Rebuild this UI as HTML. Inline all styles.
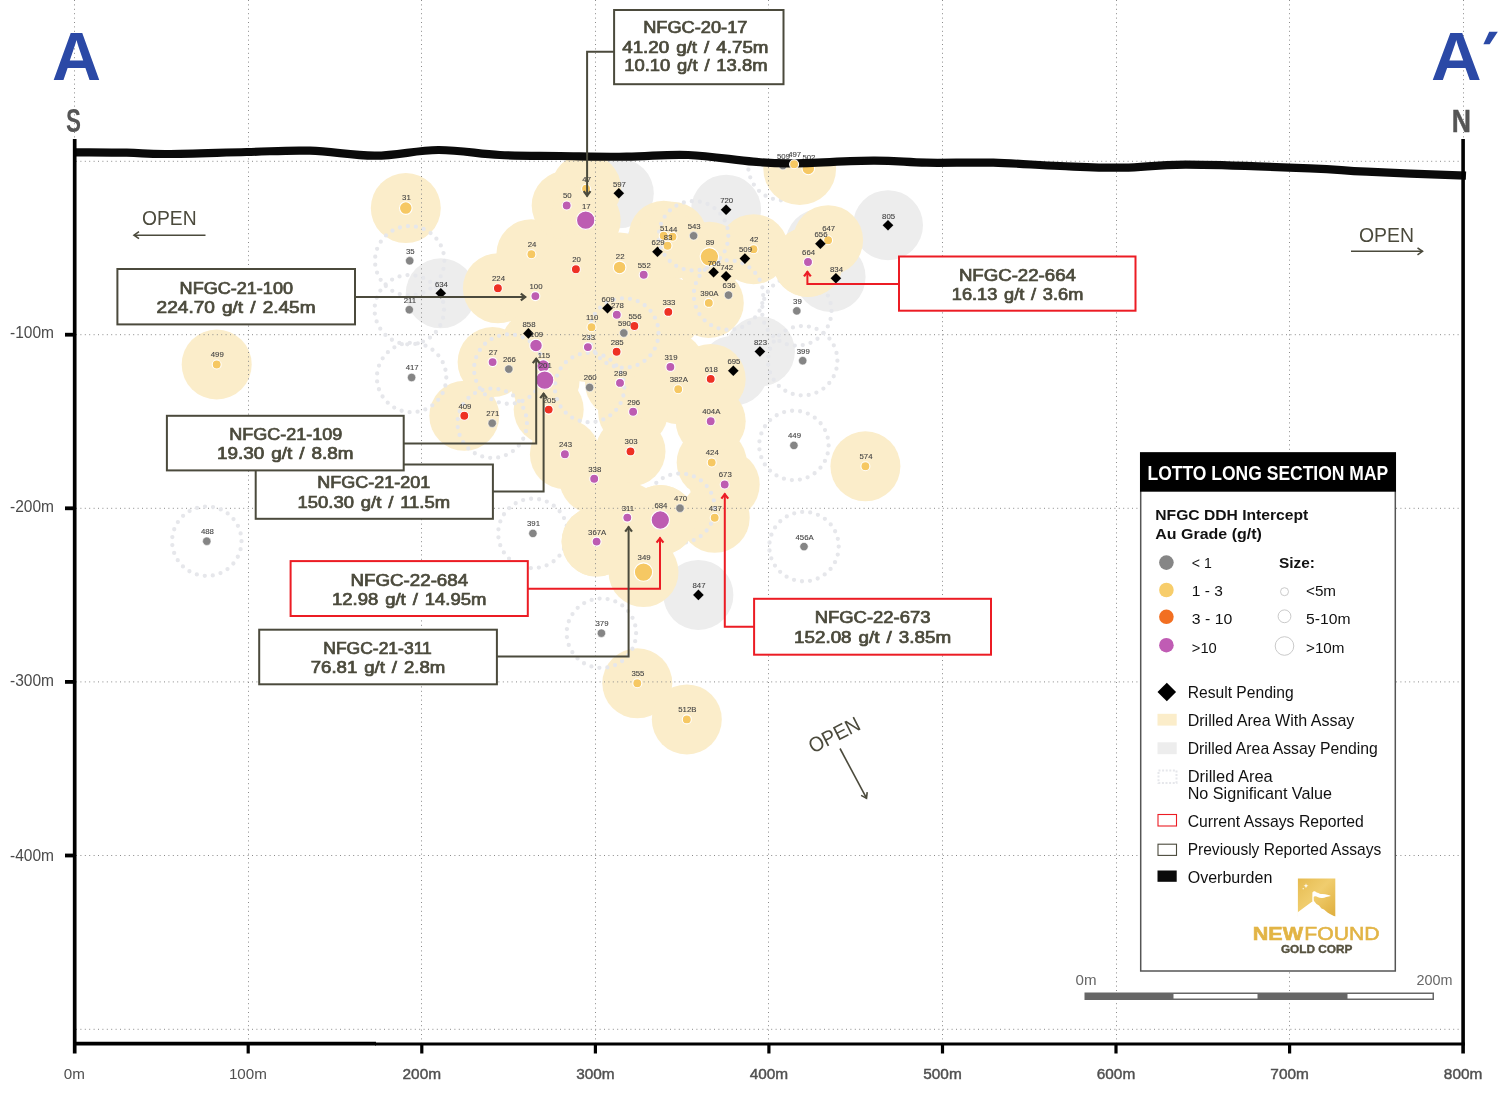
<!DOCTYPE html>
<html lang="en"><head><meta charset="utf-8"><title>Lotto Long Section Map</title>
<style>html,body{margin:0;padding:0;background:#fff}body{width:1500px;height:1098px;overflow:hidden}svg{display:block;will-change:transform}text{font-family:"Liberation Sans",sans-serif}</style></head><body>
<svg width="1500" height="1098" viewBox="0 0 1500 1098">
<rect width="1500" height="1098" fill="#fff"/>
<defs><clipPath id="below"><path d="M75.0 152.3C84.3 152.4 110.2 152.4 126.7 152.7C143.2 153.0 145.1 154.1 166.7 154.0C188.3 153.9 220.9 152.6 246.7 152.0C272.5 151.4 286.9 150.0 310.0 150.7C333.1 151.4 351.9 155.8 375.0 155.7C398.1 155.6 415.8 150.1 438.3 150.0C460.8 149.9 478.1 153.9 500.0 155.0C521.9 156.1 537.2 155.7 560.0 156.0C582.8 156.3 603.6 156.9 626.7 156.7C649.8 156.5 665.5 154.1 688.3 155.0C711.1 155.9 734.4 160.2 753.3 161.7C772.2 163.2 771.7 163.5 793.3 163.3C814.9 163.1 849.3 160.8 873.3 160.7C897.3 160.6 905.1 162.3 926.7 162.7C948.3 163.1 969.3 162.1 993.3 162.7C1017.3 163.3 1036.6 165.1 1060.0 166.0C1083.4 166.9 1100.5 167.9 1123.3 167.7C1146.1 167.5 1153.1 164.6 1186.7 164.7C1220.3 164.8 1277.6 167.0 1310.0 168.3C1342.4 169.6 1338.6 170.4 1366.7 171.7C1394.8 173.0 1448.1 175.0 1466.0 175.7L1466 1098L75 1098Z"/></clipPath></defs>
<g clip-path="url(#below)">
<g fill="#ededed">
<circle cx="440.8" cy="293.3" r="35.0"/>
<circle cx="618.8" cy="193.3" r="35.0"/>
<circle cx="607.5" cy="308.3" r="35.0"/>
<circle cx="726.1" cy="209.7" r="35.0"/>
<circle cx="888.0" cy="225.2" r="35.0"/>
<circle cx="820.4" cy="243.8" r="35.0"/>
<circle cx="830.6" cy="277.0" r="35.0"/>
<circle cx="657.5" cy="251.8" r="35.0"/>
<circle cx="759.9" cy="351.5" r="35.0"/>
<circle cx="733.3" cy="370.7" r="35.0"/>
<circle cx="698.4" cy="594.9" r="35.0"/>
</g>
<circle cx="782.9" cy="165.6" r="34.7" fill="none" stroke="#e6e7eb" stroke-width="4.3" stroke-linecap="round" stroke-dasharray="0 8.07"/>
<g fill="#fbedca">
<circle cx="405.8" cy="208.1" r="35.0"/>
<circle cx="216.7" cy="364.5" r="35.0"/>
<circle cx="497.9" cy="288.3" r="35.0"/>
<circle cx="535.4" cy="296.1" r="35.0"/>
<circle cx="531.4" cy="254.2" r="35.0"/>
<circle cx="566.7" cy="205.5" r="35.0"/>
<circle cx="586.1" cy="188.7" r="35.0"/>
<circle cx="585.7" cy="220.2" r="35.0"/>
<circle cx="575.9" cy="269.3" r="35.0"/>
<circle cx="619.6" cy="267.4" r="35.0"/>
<circle cx="616.8" cy="314.7" r="35.0"/>
<circle cx="591.5" cy="327.2" r="35.0"/>
<circle cx="634.4" cy="326.0" r="35.0"/>
<circle cx="536.0" cy="345.5" r="35.0"/>
<circle cx="587.9" cy="347.1" r="35.0"/>
<circle cx="616.6" cy="351.7" r="35.0"/>
<circle cx="828.1" cy="240.2" r="35.0"/>
<circle cx="808.0" cy="262.0" r="35.0"/>
<circle cx="753.5" cy="249.2" r="35.0"/>
<circle cx="709.4" cy="256.8" r="35.0"/>
<circle cx="708.8" cy="302.9" r="35.0"/>
<circle cx="663.7" cy="235.8" r="35.0"/>
<circle cx="672.5" cy="236.8" r="35.0"/>
<circle cx="667.5" cy="245.8" r="35.0"/>
<circle cx="643.7" cy="274.7" r="35.0"/>
<circle cx="668.3" cy="311.9" r="35.0"/>
<circle cx="492.6" cy="362.1" r="35.0"/>
<circle cx="543.3" cy="366.1" r="35.0"/>
<circle cx="544.7" cy="380.1" r="35.0"/>
<circle cx="548.7" cy="409.6" r="35.0"/>
<circle cx="670.4" cy="366.9" r="35.0"/>
<circle cx="620.0" cy="382.9" r="35.0"/>
<circle cx="678.2" cy="389.2" r="35.0"/>
<circle cx="633.1" cy="411.8" r="35.0"/>
<circle cx="464.3" cy="415.8" r="35.0"/>
<circle cx="564.9" cy="454.2" r="35.0"/>
<circle cx="630.5" cy="451.4" r="35.0"/>
<circle cx="594.2" cy="478.7" r="35.0"/>
<circle cx="627.3" cy="517.6" r="35.0"/>
<circle cx="660.3" cy="520.0" r="35.0"/>
<circle cx="596.6" cy="541.6" r="35.0"/>
<circle cx="710.7" cy="378.9" r="35.0"/>
<circle cx="710.7" cy="421.2" r="35.0"/>
<circle cx="865.4" cy="466.3" r="35.0"/>
<circle cx="711.7" cy="462.5" r="35.0"/>
<circle cx="724.7" cy="484.5" r="35.0"/>
<circle cx="714.7" cy="517.8" r="35.0"/>
<circle cx="643.5" cy="572.1" r="35.0"/>
<circle cx="637.3" cy="683.3" r="35.0"/>
<circle cx="686.8" cy="719.4" r="35.0"/>
<circle cx="799.7" cy="168.7" r="36.4"/>
</g>
</g>
<g stroke="#8a8a8a" stroke-width="1" stroke-dasharray="1 3.4" fill="none">
<path d="M74.5 0V1043"/>
<path d="M248.5 0V1043"/>
<path d="M421.5 0V1043"/>
<path d="M595.5 0V1043"/>
<path d="M768.5 0V1043"/>
<path d="M942.5 0V1043"/>
<path d="M1116.5 0V1043"/>
<path d="M1289.5 0V1043"/>
<path d="M1463.5 0V1043"/>
<path d="M76 161.3H1462"/>
<path d="M76 334.7H1462"/>
<path d="M76 508.3H1462"/>
<path d="M76 681.9H1462"/>
<path d="M76 855.5H1462"/>
<path d="M76 1029.3H1462"/>
</g>
<g font-size="7.8" fill="#444" stroke="#444" stroke-width="0.1" text-anchor="middle">
<circle cx="782.9" cy="165.6" r="4.2" fill="#858585" stroke="#fff" stroke-width="0.6"/>
<text x="783.5" y="158.5">509</text>
<circle cx="808.3" cy="168.5" r="6.3" fill="#f6c863" stroke="#fff" stroke-width="1.1"/>
<text x="808.9" y="159.9">502</text>
</g>
<path d="M75.0 152.3C84.3 152.4 110.2 152.4 126.7 152.7C143.2 153.0 145.1 154.1 166.7 154.0C188.3 153.9 220.9 152.6 246.7 152.0C272.5 151.4 286.9 150.0 310.0 150.7C333.1 151.4 351.9 155.8 375.0 155.7C398.1 155.6 415.8 150.1 438.3 150.0C460.8 149.9 478.1 153.9 500.0 155.0C521.9 156.1 537.2 155.7 560.0 156.0C582.8 156.3 603.6 156.9 626.7 156.7C649.8 156.5 665.5 154.1 688.3 155.0C711.1 155.9 734.4 160.2 753.3 161.7C772.2 163.2 771.7 163.5 793.3 163.3C814.9 163.1 849.3 160.8 873.3 160.7C897.3 160.6 905.1 162.3 926.7 162.7C948.3 163.1 969.3 162.1 993.3 162.7C1017.3 163.3 1036.6 165.1 1060.0 166.0C1083.4 166.9 1100.5 167.9 1123.3 167.7C1146.1 167.5 1153.1 164.6 1186.7 164.7C1220.3 164.8 1277.6 167.0 1310.0 168.3C1342.4 169.6 1338.6 170.4 1366.7 171.7C1394.8 173.0 1448.1 175.0 1466.0 175.7" fill="none" stroke="#0a0a0a" stroke-width="8.2" stroke-linejoin="round"/>
<g font-size="7.8" fill="#444" stroke="#444" stroke-width="0.1" text-anchor="middle">
<circle cx="794.1" cy="164.3" r="4.5" fill="#f6c863" stroke="#fff" stroke-width="1.1"/>
<text x="794.7" y="157.2">497</text>
<path d="M528.4 328.1l5.3 5.3l-5.3 5.3l-5.3 -5.3z" fill="#000"/>
<path d="M713.6 267.0l5.3 5.3l-5.3 5.3l-5.3 -5.3z" fill="#000"/>
<path d="M657.5 246.5l5.3 5.3l-5.3 5.3l-5.3 -5.3z" fill="#000"/>
</g>
<g clip-path="url(#below)">
<g fill="none" stroke="#e6e7eb" stroke-width="4.3" stroke-linecap="round" stroke-dasharray="0 8.07">
<circle cx="409.7" cy="260.8" r="34.7"/>
<circle cx="409.3" cy="309.7" r="34.7"/>
<circle cx="411.6" cy="377.5" r="34.7"/>
<circle cx="206.8" cy="541.2" r="34.7"/>
<circle cx="623.8" cy="333.0" r="34.7"/>
<circle cx="796.8" cy="310.9" r="34.7"/>
<circle cx="728.5" cy="295.1" r="34.7"/>
<circle cx="693.6" cy="235.8" r="34.7"/>
<circle cx="802.7" cy="360.7" r="34.7"/>
<circle cx="508.8" cy="369.1" r="34.7"/>
<circle cx="589.6" cy="387.5" r="34.7"/>
<circle cx="492.2" cy="423.2" r="34.7"/>
<circle cx="680.0" cy="508.2" r="34.7"/>
<circle cx="532.9" cy="533.4" r="34.7"/>
<circle cx="793.9" cy="445.4" r="34.7"/>
<circle cx="804.0" cy="546.6" r="34.7"/>
<circle cx="601.4" cy="633.2" r="34.7"/>
</g>
<g fill="#fbedca">
<circle cx="808.0" cy="262.0" r="35.0"/>
<circle cx="660.3" cy="520.0" r="35.0"/>
<circle cx="596.6" cy="541.6" r="35.0"/>
</g>
</g>
<defs><clipPath id="late">
<circle cx="808.0" cy="262.0" r="35.0"/>
<circle cx="660.3" cy="520.0" r="35.0"/>
<circle cx="596.6" cy="541.6" r="35.0"/>
</clipPath></defs>
<g clip-path="url(#late)" stroke="#8a8a8a" stroke-width="1" stroke-dasharray="1 3.4" fill="none">
<path d="M595.5 0V1043"/>
<path d="M768.5 0V1043"/>
<path d="M76 334.7H1462"/>
<path d="M76 508.3H1462"/>
</g>
<g font-size="7.8" fill="#444" stroke="#444" stroke-width="0.1" text-anchor="middle">
<circle cx="405.8" cy="208.1" r="6.3" fill="#f6c863" stroke="#fff" stroke-width="1.1"/>
<text x="406.4" y="199.5">31</text>
<path d="M440.8 288.0l5.3 5.3l-5.3 5.3l-5.3 -5.3z" fill="#000"/>
<text x="441.4" y="286.7">634</text>
<circle cx="216.7" cy="364.5" r="4.5" fill="#f6c863" stroke="#fff" stroke-width="1.1"/>
<text x="217.3" y="357.4">499</text>
<circle cx="497.9" cy="288.3" r="4.5" fill="#ee3124" stroke="#fff" stroke-width="1.1"/>
<text x="498.5" y="281.2">224</text>
<circle cx="535.4" cy="296.1" r="4.5" fill="#bd5cb2" stroke="#fff" stroke-width="1.1"/>
<text x="536.0" y="289.0">100</text>
<circle cx="531.4" cy="254.2" r="4.5" fill="#f6c863" stroke="#fff" stroke-width="1.1"/>
<text x="532.0" y="247.1">24</text>
<circle cx="566.7" cy="205.5" r="4.5" fill="#bd5cb2" stroke="#fff" stroke-width="1.1"/>
<text x="567.3" y="198.4">50</text>
<circle cx="586.1" cy="188.7" r="4.5" fill="#f6c863" stroke="#fff" stroke-width="1.1"/>
<text x="586.7" y="181.6">47</text>
<circle cx="585.7" cy="220.2" r="9.2" fill="#bd5cb2" stroke="#fff" stroke-width="1.1"/>
<text x="586.3" y="208.5">17</text>
<path d="M618.8 188.0l5.3 5.3l-5.3 5.3l-5.3 -5.3z" fill="#000"/>
<text x="619.4" y="186.7">597</text>
<circle cx="575.9" cy="269.3" r="4.5" fill="#ee3124" stroke="#fff" stroke-width="1.1"/>
<text x="576.5" y="262.2">20</text>
<circle cx="619.6" cy="267.4" r="6.3" fill="#f6c863" stroke="#fff" stroke-width="1.1"/>
<text x="620.2" y="258.8">22</text>
<path d="M607.5 303.0l5.3 5.3l-5.3 5.3l-5.3 -5.3z" fill="#000"/>
<text x="608.1" y="301.7">609</text>
<circle cx="616.8" cy="314.7" r="4.5" fill="#bd5cb2" stroke="#fff" stroke-width="1.1"/>
<text x="617.4" y="307.6">278</text>
<circle cx="591.5" cy="327.2" r="4.5" fill="#f6c863" stroke="#fff" stroke-width="1.1"/>
<text x="592.1" y="320.1">110</text>
<circle cx="634.4" cy="326.0" r="4.5" fill="#ee3124" stroke="#fff" stroke-width="1.1"/>
<text x="635.0" y="318.9">556</text>
<text x="529.0" y="326.8">858</text>
<circle cx="536.0" cy="345.5" r="6.3" fill="#bd5cb2" stroke="#fff" stroke-width="1.1"/>
<text x="536.6" y="336.9">109</text>
<circle cx="587.9" cy="347.1" r="4.5" fill="#bd5cb2" stroke="#fff" stroke-width="1.1"/>
<text x="588.5" y="340.0">233</text>
<circle cx="616.6" cy="351.7" r="4.5" fill="#ee3124" stroke="#fff" stroke-width="1.1"/>
<text x="617.2" y="344.6">285</text>
<path d="M726.1 204.4l5.3 5.3l-5.3 5.3l-5.3 -5.3z" fill="#000"/>
<text x="726.7" y="203.1">720</text>
<path d="M888.0 219.9l5.3 5.3l-5.3 5.3l-5.3 -5.3z" fill="#000"/>
<text x="888.6" y="218.6">805</text>
<circle cx="828.1" cy="240.2" r="4.5" fill="#f6c863" stroke="#fff" stroke-width="1.1"/>
<text x="828.7" y="231.0">647</text>
<path d="M820.4 238.5l5.3 5.3l-5.3 5.3l-5.3 -5.3z" fill="#000"/>
<text x="821.0" y="237.2">656</text>
<circle cx="808.0" cy="262.0" r="4.5" fill="#bd5cb2" stroke="#fff" stroke-width="1.1"/>
<text x="808.6" y="254.9">664</text>
<path d="M835.9 273.0l5.3 5.3l-5.3 5.3l-5.3 -5.3z" fill="#000"/>
<text x="836.5" y="271.7">834</text>
<circle cx="753.5" cy="249.2" r="4.5" fill="#f6c863" stroke="#fff" stroke-width="1.1"/>
<text x="754.1" y="242.1">42</text>
<path d="M744.9 253.3l5.3 5.3l-5.3 5.3l-5.3 -5.3z" fill="#000"/>
<text x="745.5" y="252.0">509</text>
<circle cx="709.4" cy="256.8" r="9.2" fill="#f6c863" stroke="#fff" stroke-width="1.1"/>
<text x="710.0" y="245.1">89</text>
<text x="714.2" y="265.7">706</text>
<path d="M726.1 271.0l5.3 5.3l-5.3 5.3l-5.3 -5.3z" fill="#000"/>
<text x="726.7" y="269.7">742</text>
<circle cx="708.8" cy="302.9" r="4.5" fill="#f6c863" stroke="#fff" stroke-width="1.1"/>
<text x="709.4" y="295.8">390A</text>
<circle cx="663.7" cy="235.8" r="4.5" fill="#f6c863" stroke="#fff" stroke-width="1.1"/>
<text x="664.3" y="230.8">51</text>
<circle cx="672.5" cy="236.8" r="4.5" fill="#f6c863" stroke="#fff" stroke-width="1.1"/>
<text x="673.1" y="231.8">44</text>
<circle cx="667.5" cy="245.8" r="4.5" fill="#f6c863" stroke="#fff" stroke-width="1.1"/>
<text x="668.1" y="240.0">83</text>
<text x="658.1" y="245.2">629</text>
<circle cx="643.7" cy="274.7" r="4.5" fill="#bd5cb2" stroke="#fff" stroke-width="1.1"/>
<text x="644.3" y="267.6">552</text>
<circle cx="668.3" cy="311.9" r="4.5" fill="#ee3124" stroke="#fff" stroke-width="1.1"/>
<text x="668.9" y="304.8">333</text>
<path d="M759.9 346.2l5.3 5.3l-5.3 5.3l-5.3 -5.3z" fill="#000"/>
<text x="760.5" y="344.9">823</text>
<circle cx="492.6" cy="362.1" r="4.5" fill="#bd5cb2" stroke="#fff" stroke-width="1.1"/>
<text x="493.2" y="355.0">27</text>
<circle cx="543.3" cy="366.1" r="6.3" fill="#bd5cb2" stroke="#fff" stroke-width="1.1"/>
<text x="543.9" y="357.5">115</text>
<circle cx="544.7" cy="380.1" r="9.2" fill="#bd5cb2" stroke="#fff" stroke-width="1.1"/>
<text x="545.3" y="368.4">201</text>
<circle cx="548.7" cy="409.6" r="4.5" fill="#ee3124" stroke="#fff" stroke-width="1.1"/>
<text x="549.3" y="402.5">205</text>
<circle cx="670.4" cy="366.9" r="4.5" fill="#bd5cb2" stroke="#fff" stroke-width="1.1"/>
<text x="671.0" y="359.8">319</text>
<circle cx="620.0" cy="382.9" r="4.5" fill="#bd5cb2" stroke="#fff" stroke-width="1.1"/>
<text x="620.6" y="375.8">289</text>
<circle cx="678.2" cy="389.2" r="4.5" fill="#f6c863" stroke="#fff" stroke-width="1.1"/>
<text x="678.8" y="382.1">382A</text>
<circle cx="633.1" cy="411.8" r="4.5" fill="#bd5cb2" stroke="#fff" stroke-width="1.1"/>
<text x="633.7" y="404.7">296</text>
<circle cx="464.3" cy="415.8" r="4.5" fill="#ee3124" stroke="#fff" stroke-width="1.1"/>
<text x="464.9" y="408.7">409</text>
<circle cx="564.9" cy="454.2" r="4.5" fill="#bd5cb2" stroke="#fff" stroke-width="1.1"/>
<text x="565.5" y="447.1">243</text>
<circle cx="630.5" cy="451.4" r="4.5" fill="#ee3124" stroke="#fff" stroke-width="1.1"/>
<text x="631.1" y="444.3">303</text>
<circle cx="594.2" cy="478.7" r="4.5" fill="#bd5cb2" stroke="#fff" stroke-width="1.1"/>
<text x="594.8" y="471.6">338</text>
<circle cx="627.3" cy="517.6" r="4.5" fill="#bd5cb2" stroke="#fff" stroke-width="1.1"/>
<text x="627.9" y="510.5">311</text>
<circle cx="660.3" cy="520.0" r="9.2" fill="#bd5cb2" stroke="#fff" stroke-width="1.1"/>
<text x="660.9" y="508.3">684</text>
<circle cx="596.6" cy="541.6" r="4.5" fill="#bd5cb2" stroke="#fff" stroke-width="1.1"/>
<text x="597.2" y="534.5">367A</text>
<path d="M733.3 365.4l5.3 5.3l-5.3 5.3l-5.3 -5.3z" fill="#000"/>
<text x="733.9" y="364.1">695</text>
<circle cx="710.7" cy="378.9" r="4.5" fill="#ee3124" stroke="#fff" stroke-width="1.1"/>
<text x="711.3" y="371.8">618</text>
<circle cx="710.7" cy="421.2" r="4.5" fill="#bd5cb2" stroke="#fff" stroke-width="1.1"/>
<text x="711.3" y="414.1">404A</text>
<circle cx="865.4" cy="466.3" r="4.5" fill="#f6c863" stroke="#fff" stroke-width="1.1"/>
<text x="866.0" y="459.2">574</text>
<circle cx="711.7" cy="462.5" r="4.5" fill="#f6c863" stroke="#fff" stroke-width="1.1"/>
<text x="712.3" y="455.4">424</text>
<circle cx="724.7" cy="484.5" r="4.5" fill="#bd5cb2" stroke="#fff" stroke-width="1.1"/>
<text x="725.3" y="477.4">673</text>
<circle cx="714.7" cy="517.8" r="4.5" fill="#f6c863" stroke="#fff" stroke-width="1.1"/>
<text x="715.3" y="510.7">437</text>
<circle cx="643.5" cy="572.1" r="9.2" fill="#f6c863" stroke="#fff" stroke-width="1.1"/>
<text x="644.1" y="560.4">349</text>
<path d="M698.4 589.6l5.3 5.3l-5.3 5.3l-5.3 -5.3z" fill="#000"/>
<text x="699.0" y="588.3">847</text>
<circle cx="637.3" cy="683.3" r="4.5" fill="#f6c863" stroke="#fff" stroke-width="1.1"/>
<text x="637.9" y="676.2">355</text>
<circle cx="686.8" cy="719.4" r="4.5" fill="#f6c863" stroke="#fff" stroke-width="1.1"/>
<text x="687.4" y="712.3">512B</text>
<circle cx="409.7" cy="260.8" r="4.2" fill="#858585" stroke="#fff" stroke-width="0.6"/>
<text x="410.3" y="253.7">35</text>
<circle cx="409.3" cy="309.7" r="4.2" fill="#858585" stroke="#fff" stroke-width="0.6"/>
<text x="409.9" y="302.6">211</text>
<circle cx="411.6" cy="377.5" r="4.2" fill="#858585" stroke="#fff" stroke-width="0.6"/>
<text x="412.2" y="370.4">417</text>
<circle cx="206.8" cy="541.2" r="4.2" fill="#858585" stroke="#fff" stroke-width="0.6"/>
<text x="207.4" y="534.1">488</text>
<circle cx="623.8" cy="333.0" r="4.2" fill="#858585" stroke="#fff" stroke-width="0.6"/>
<text x="624.4" y="325.9">590</text>
<circle cx="796.8" cy="310.9" r="4.2" fill="#858585" stroke="#fff" stroke-width="0.6"/>
<text x="797.4" y="303.8">39</text>
<circle cx="728.5" cy="295.1" r="4.2" fill="#858585" stroke="#fff" stroke-width="0.6"/>
<text x="729.1" y="288.0">636</text>
<circle cx="693.6" cy="235.8" r="4.2" fill="#858585" stroke="#fff" stroke-width="0.6"/>
<text x="694.2" y="228.7">543</text>
<circle cx="802.7" cy="360.7" r="4.2" fill="#858585" stroke="#fff" stroke-width="0.6"/>
<text x="803.3" y="353.6">399</text>
<circle cx="508.8" cy="369.1" r="4.2" fill="#858585" stroke="#fff" stroke-width="0.6"/>
<text x="509.4" y="362.0">266</text>
<circle cx="589.6" cy="387.5" r="4.2" fill="#858585" stroke="#fff" stroke-width="0.6"/>
<text x="590.2" y="380.4">260</text>
<circle cx="492.2" cy="423.2" r="4.2" fill="#858585" stroke="#fff" stroke-width="0.6"/>
<text x="492.8" y="416.1">271</text>
<circle cx="680.0" cy="508.2" r="4.2" fill="#858585" stroke="#fff" stroke-width="0.6"/>
<text x="680.6" y="501.1">470</text>
<circle cx="532.9" cy="533.4" r="4.2" fill="#858585" stroke="#fff" stroke-width="0.6"/>
<text x="533.5" y="526.3">391</text>
<circle cx="793.9" cy="445.4" r="4.2" fill="#858585" stroke="#fff" stroke-width="0.6"/>
<text x="794.5" y="438.3">449</text>
<circle cx="804.0" cy="546.6" r="4.2" fill="#858585" stroke="#fff" stroke-width="0.6"/>
<text x="804.6" y="539.5">456A</text>
<circle cx="601.4" cy="633.2" r="4.2" fill="#858585" stroke="#fff" stroke-width="0.6"/>
<text x="602.0" y="626.1">379</text>
</g>
<g stroke="#000" stroke-width="3.2" fill="none">
<path d="M74.7 139V1053.5" stroke-width="3.7"/>
<path d="M1463.1 139V1053.5" stroke-width="3.6"/>
<path d="M73 1043.6H376" stroke-width="3.6"/><path d="M375 1044H1464.8" stroke-width="2.9"/>
<path d="M248.2 1043V1053.5"/>
<path d="M421.8 1043V1053.5"/>
<path d="M595.4 1043V1053.5"/>
<path d="M768.9 1043V1053.5"/>
<path d="M942.5 1043V1053.5"/>
<path d="M1116.0 1043V1053.5"/>
<path d="M1289.6 1043V1053.5"/>
<path d="M65 334.7H74" stroke-width="3.8"/>
<path d="M65 508.3H74" stroke-width="3.8"/>
<path d="M65 681.9H74" stroke-width="3.8"/>
<path d="M65 855.5H74" stroke-width="3.8"/>
</g>
<g font-size="15.6" fill="#4a4a4a">
<text x="10" y="338.3" textLength="44" lengthAdjust="spacingAndGlyphs">-100m</text>
<text x="10" y="512.3" textLength="44" lengthAdjust="spacingAndGlyphs">-200m</text>
<text x="10" y="686.4" textLength="44" lengthAdjust="spacingAndGlyphs">-300m</text>
<text x="10" y="860.6" textLength="44" lengthAdjust="spacingAndGlyphs">-400m</text>
</g>
<g font-size="14.4" fill="#505050" text-anchor="middle">
<text x="74.4" y="1079.3" font-size="15.2">0m</text>
<text x="247.9" y="1079.3" font-size="15.2">100m</text>
<text x="421.8" y="1079.4" font-size="15.4" stroke="#505050" stroke-width="0.45">200m</text>
<text x="595.4" y="1079.4" font-size="15.4" stroke="#505050" stroke-width="0.45">300m</text>
<text x="768.9" y="1079.4" font-size="15.4" stroke="#505050" stroke-width="0.45">400m</text>
<text x="942.5" y="1079.4" font-size="15.4" stroke="#505050" stroke-width="0.45">500m</text>
<text x="1116.0" y="1079.4" font-size="15.4" stroke="#505050" stroke-width="0.45">600m</text>
<text x="1289.6" y="1079.4" font-size="15.4" stroke="#505050" stroke-width="0.45">700m</text>
<text x="1463.1" y="1079.4" font-size="15.4" stroke="#505050" stroke-width="0.45">800m</text>
</g>
<text x="52" y="80.2" font-size="68" font-weight="bold" fill="#2b49a6" textLength="49" lengthAdjust="spacingAndGlyphs">A</text>
<text x="1431" y="80.2" font-size="68" font-weight="bold" fill="#2b49a6" textLength="50.6" lengthAdjust="spacingAndGlyphs">A</text>
<path d="M1489.2 31.8L1497.8 31.8L1489.6 44.2L1483.4 44.2Z" fill="#2b49a6"/>
<text x="66" y="131.5" font-size="32.5" font-weight="bold" fill="#555" textLength="15" lengthAdjust="spacingAndGlyphs">S</text>
<text x="1451.8" y="131.5" font-size="31" font-weight="bold" fill="#555" stroke="#555" stroke-width="0.5" textLength="19.2" lengthAdjust="spacingAndGlyphs">N</text>
<text x="142" y="225" font-size="21" fill="#4b4a3c" textLength="54.6" lengthAdjust="spacingAndGlyphs">OPEN</text>
<path d="M205.5 235.2L134.0 235.2" stroke="#4b4a3c" stroke-width="1.6" fill="none"/>
<path d="M139.0 231.7L134.0 235.2L139.0 238.7" stroke="#4b4a3c" stroke-width="1.6" fill="none" stroke-linejoin="miter"/>
<text x="1359" y="241.5" font-size="21" fill="#4b4a3c" textLength="55" lengthAdjust="spacingAndGlyphs">OPEN</text>
<path d="M1351.0 251.3L1422.5 251.3" stroke="#4b4a3c" stroke-width="1.6" fill="none"/>
<path d="M1417.5 254.8L1422.5 251.3L1417.5 247.8" stroke="#4b4a3c" stroke-width="1.6" fill="none" stroke-linejoin="miter"/>
<g transform="translate(834 734.6) rotate(-27)"><text x="-27.5" y="7.5" font-size="21" fill="#4b4a3c" textLength="55" lengthAdjust="spacingAndGlyphs">OPEN</text></g>
<path d="M840.0 748.5L866.5 798.2" stroke="#4b4a3c" stroke-width="1.6" fill="none"/>
<path d="M861.1 795.4L866.5 798.2L867.2 792.1" stroke="#4b4a3c" stroke-width="1.6" fill="none" stroke-linejoin="miter"/>
<path d="M614.0 51.7L587.1 51.7L587.1 196.4" stroke="#4b4a3c" stroke-width="2" fill="none" stroke-linejoin="miter"/>
<path d="M583.7 191.2L587.1 195.6L590.5 191.2" stroke="#4b4a3c" stroke-width="2.2" fill="none"/>
<rect x="614.1" y="10.0" width="169.4" height="74.2" fill="#fff" stroke="#4b4a3c" stroke-width="2"/>
<text x="643.2" y="33.1" font-size="15.8" fill="#4b4a3c" stroke="#4b4a3c" stroke-width="0.7" textLength="104.2" lengthAdjust="spacingAndGlyphs" style="word-spacing:1.5px">NFGC-20-17</text>
<text x="622.2" y="52.5" font-size="15.8" fill="#4b4a3c" stroke="#4b4a3c" stroke-width="0.7" textLength="146.3" lengthAdjust="spacingAndGlyphs" style="word-spacing:1.5px">41.20 g/t / 4.75m</text>
<text x="624.2" y="71.1" font-size="15.8" fill="#4b4a3c" stroke="#4b4a3c" stroke-width="0.7" textLength="143.3" lengthAdjust="spacingAndGlyphs" style="word-spacing:1.5px">10.10 g/t / 13.8m</text>
<path d="M355.0 297.0L526.0 297.0" stroke="#4b4a3c" stroke-width="2" fill="none" stroke-linejoin="miter"/>
<path d="M520.8 293.6L525.2 297.0L520.8 300.4" stroke="#4b4a3c" stroke-width="2.2" fill="none"/>
<rect x="117.4" y="269.0" width="237.6" height="55.4" fill="#fff" stroke="#4b4a3c" stroke-width="2"/>
<text x="179.6" y="293.6" font-size="15.8" fill="#4b4a3c" stroke="#4b4a3c" stroke-width="0.7" textLength="113.4" lengthAdjust="spacingAndGlyphs" style="word-spacing:1.5px">NFGC-21-100</text>
<text x="156.6" y="312.6" font-size="15.8" fill="#4b4a3c" stroke="#4b4a3c" stroke-width="0.7" textLength="159.0" lengthAdjust="spacingAndGlyphs" style="word-spacing:1.5px">224.70 g/t / 2.45m</text>
<path d="M493.0 491.4L543.6 491.4L543.6 393.0" stroke="#4b4a3c" stroke-width="2" fill="none" stroke-linejoin="miter"/>
<path d="M540.2 398.2L543.6 393.8L547.0 398.2" stroke="#4b4a3c" stroke-width="2.2" fill="none"/>
<rect x="255.7" y="464.5" width="237.2" height="54.3" fill="#fff" stroke="#4b4a3c" stroke-width="2"/>
<text x="317.3" y="488.4" font-size="15.8" fill="#4b4a3c" stroke="#4b4a3c" stroke-width="0.7" textLength="112.9" lengthAdjust="spacingAndGlyphs" style="word-spacing:1.5px">NFGC-21-201</text>
<text x="297.6" y="508.3" font-size="15.8" fill="#4b4a3c" stroke="#4b4a3c" stroke-width="0.7" textLength="152.5" lengthAdjust="spacingAndGlyphs" style="word-spacing:1.5px">150.30 g/t / 11.5m</text>
<path d="M404.0 443.5L536.2 443.5L536.2 358.0" stroke="#4b4a3c" stroke-width="2" fill="none" stroke-linejoin="miter"/>
<path d="M532.8 363.2L536.2 358.8L539.6 363.2" stroke="#4b4a3c" stroke-width="2.2" fill="none"/>
<rect x="166.9" y="415.8" width="236.8" height="54.6" fill="#fff" stroke="#4b4a3c" stroke-width="2"/>
<text x="229.3" y="440.0" font-size="15.8" fill="#4b4a3c" stroke="#4b4a3c" stroke-width="0.7" textLength="112.9" lengthAdjust="spacingAndGlyphs" style="word-spacing:1.5px">NFGC-21-109</text>
<text x="217.0" y="459.1" font-size="15.8" fill="#4b4a3c" stroke="#4b4a3c" stroke-width="0.7" textLength="136.6" lengthAdjust="spacingAndGlyphs" style="word-spacing:1.5px">19.30 g/t / 8.8m</text>
<path d="M528.0 588.8L660.0 588.8L660.0 537.4" stroke="#ec1c24" stroke-width="2" fill="none" stroke-linejoin="miter"/>
<path d="M656.6 542.6L660.0 538.2L663.4 542.6" stroke="#ec1c24" stroke-width="2.2" fill="none"/>
<rect x="290.6" y="561.1" width="237.2" height="54.9" fill="#fff" stroke="#ec1c24" stroke-width="2"/>
<text x="350.6" y="585.5" font-size="15.8" fill="#4b4a3c" stroke="#4b4a3c" stroke-width="0.7" textLength="117.5" lengthAdjust="spacingAndGlyphs" style="word-spacing:1.5px">NFGC-22-684</text>
<text x="332.0" y="604.7" font-size="15.8" fill="#4b4a3c" stroke="#4b4a3c" stroke-width="0.7" textLength="154.4" lengthAdjust="spacingAndGlyphs" style="word-spacing:1.5px">12.98 g/t / 14.95m</text>
<path d="M497.0 656.6L628.6 656.6L628.6 526.4" stroke="#4b4a3c" stroke-width="2" fill="none" stroke-linejoin="miter"/>
<path d="M625.2 531.6L628.6 527.2L632.0 531.6" stroke="#4b4a3c" stroke-width="2.2" fill="none"/>
<rect x="259.2" y="629.7" width="237.7" height="54.6" fill="#fff" stroke="#4b4a3c" stroke-width="2"/>
<text x="323.3" y="654.4" font-size="15.8" fill="#4b4a3c" stroke="#4b4a3c" stroke-width="0.7" textLength="108.5" lengthAdjust="spacingAndGlyphs" style="word-spacing:1.5px">NFGC-21-311</text>
<text x="310.7" y="673.0" font-size="15.8" fill="#4b4a3c" stroke="#4b4a3c" stroke-width="0.7" textLength="134.7" lengthAdjust="spacingAndGlyphs" style="word-spacing:1.5px">76.81 g/t / 2.8m</text>
<path d="M754.0 626.7L724.8 626.7L724.8 493.4" stroke="#ec1c24" stroke-width="2" fill="none" stroke-linejoin="miter"/>
<path d="M721.4 498.6L724.8 494.2L728.2 498.6" stroke="#ec1c24" stroke-width="2.2" fill="none"/>
<rect x="754.1" y="598.8" width="236.9" height="55.9" fill="#fff" stroke="#ec1c24" stroke-width="2"/>
<text x="814.7" y="623.2" font-size="15.8" fill="#4b4a3c" stroke="#4b4a3c" stroke-width="0.7" textLength="115.7" lengthAdjust="spacingAndGlyphs" style="word-spacing:1.5px">NFGC-22-673</text>
<text x="794.0" y="642.6" font-size="15.8" fill="#4b4a3c" stroke="#4b4a3c" stroke-width="0.7" textLength="157.1" lengthAdjust="spacingAndGlyphs" style="word-spacing:1.5px">152.08 g/t / 3.85m</text>
<path d="M899.0 283.9L807.4 283.9L807.4 271.2" stroke="#ec1c24" stroke-width="2" fill="none" stroke-linejoin="miter"/>
<path d="M804.0 276.4L807.4 272.0L810.8 276.4" stroke="#ec1c24" stroke-width="2.2" fill="none"/>
<rect x="899.0" y="256.5" width="236.5" height="54.2" fill="#fff" stroke="#ec1c24" stroke-width="2"/>
<text x="958.9" y="280.8" font-size="15.8" fill="#4b4a3c" stroke="#4b4a3c" stroke-width="0.7" textLength="117.0" lengthAdjust="spacingAndGlyphs" style="word-spacing:1.5px">NFGC-22-664</text>
<text x="951.8" y="299.6" font-size="15.8" fill="#4b4a3c" stroke="#4b4a3c" stroke-width="0.7" textLength="131.5" lengthAdjust="spacingAndGlyphs" style="word-spacing:1.5px">16.13 g/t / 3.6m</text>
<rect x="1140.7" y="453" width="254.6" height="518" fill="#fff" stroke="#555" stroke-width="1.5"/>
<rect x="1140" y="452.3" width="256" height="39.4" fill="#000"/>
<text x="1147.5" y="480.3" font-size="20.6" fill="#fff" textLength="240.7" lengthAdjust="spacingAndGlyphs" font-weight="bold">LOTTO LONG SECTION MAP</text>
<text x="1155.3" y="520.0" font-size="15.4" fill="#111" textLength="153.0" lengthAdjust="spacingAndGlyphs" font-weight="bold">NFGC DDH Intercept</text>
<text x="1155.3" y="539.4" font-size="15.4" fill="#111" textLength="106.5" lengthAdjust="spacingAndGlyphs" font-weight="bold">Au Grade (g/t)</text>
<circle cx="1166.4" cy="562.6" r="7.3" fill="#868686"/>
<circle cx="1166.4" cy="590.0" r="7.3" fill="#f7cd6b"/>
<circle cx="1166.4" cy="616.8" r="7.3" fill="#f26f21"/>
<circle cx="1166.4" cy="645.2" r="7.3" fill="#c05cb4"/>
<text x="1191.8" y="567.8" font-size="15.0" fill="#111" textLength="20.0" lengthAdjust="spacingAndGlyphs">&lt; 1</text>
<text x="1191.8" y="596.2" font-size="15.0" fill="#111" textLength="31.0" lengthAdjust="spacingAndGlyphs">1 - 3</text>
<text x="1191.8" y="624.2" font-size="15.0" fill="#111" textLength="40.5" lengthAdjust="spacingAndGlyphs">3 - 10</text>
<text x="1191.8" y="652.6" font-size="15.0" fill="#111" textLength="25.0" lengthAdjust="spacingAndGlyphs">&gt;10</text>
<text x="1278.9" y="567.8" font-size="15.4" fill="#111" textLength="36.0" lengthAdjust="spacingAndGlyphs" font-weight="bold">Size:</text>
<circle cx="1284.5" cy="591.7" r="4.0" fill="#fff" stroke="#c4c4c4" stroke-width="0.9"/>
<circle cx="1284.5" cy="616.3" r="6.4" fill="#fff" stroke="#c4c4c4" stroke-width="0.9"/>
<circle cx="1284.5" cy="646.0" r="9.3" fill="#fff" stroke="#c4c4c4" stroke-width="0.9"/>
<text x="1306.0" y="596.2" font-size="15.0" fill="#111" textLength="30.0" lengthAdjust="spacingAndGlyphs">&lt;5m</text>
<text x="1306.0" y="624.2" font-size="15.0" fill="#111" textLength="44.5" lengthAdjust="spacingAndGlyphs">5-10m</text>
<text x="1306.0" y="652.6" font-size="15.0" fill="#111" textLength="38.5" lengthAdjust="spacingAndGlyphs">&gt;10m</text>
<path d="M1166.8 682.7l9.3 9.3l-9.3 9.3l-9.3 -9.3z" fill="#000"/>
<text x="1187.7" y="698.2" font-size="16.6" fill="#111" textLength="106.0" lengthAdjust="spacingAndGlyphs">Result Pending</text>
<rect x="1157.5" y="713.8" width="19.2" height="11.8" fill="#fbedca"/>
<text x="1187.7" y="725.9" font-size="16.6" fill="#111" textLength="166.7" lengthAdjust="spacingAndGlyphs">Drilled Area With Assay</text>
<rect x="1157.5" y="742.3" width="19.2" height="11.9" fill="#ededed"/>
<text x="1187.7" y="754.2" font-size="16.6" fill="#111" textLength="190.1" lengthAdjust="spacingAndGlyphs">Drilled Area Assay Pending</text>
<rect x="1158.5" y="770.4" width="18" height="12.6" fill="none" stroke="#e6e7eb" stroke-width="2" stroke-dasharray="2 1.6"/>
<text x="1187.7" y="782.1" font-size="16.6" fill="#111" textLength="85.0" lengthAdjust="spacingAndGlyphs">Drilled Area</text>
<text x="1187.7" y="798.5" font-size="16.6" fill="#111" textLength="144.3" lengthAdjust="spacingAndGlyphs">No Significant Value</text>
<rect x="1158" y="814.5" width="18.5" height="11.5" fill="#fff" stroke="#ec1c24" stroke-width="1.1"/>
<text x="1187.7" y="826.8" font-size="16.6" fill="#111" textLength="176.0" lengthAdjust="spacingAndGlyphs">Current Assays Reported</text>
<rect x="1158" y="844.2" width="18.5" height="11.2" fill="#fff" stroke="#4b4a3c" stroke-width="1.1"/>
<text x="1187.7" y="855.0" font-size="16.6" fill="#111" textLength="193.5" lengthAdjust="spacingAndGlyphs">Previously Reported Assays</text>
<rect x="1157.5" y="870.5" width="19.2" height="11.3" fill="#0a0a0a"/>
<text x="1187.7" y="882.7" font-size="16.6" fill="#111" textLength="84.7" lengthAdjust="spacingAndGlyphs">Overburden</text>
<defs><linearGradient id="gg" x1="0" y1="0" x2="1" y2="1"><stop offset="0" stop-color="#e6bb50"/><stop offset="0.45" stop-color="#f0cd6e"/><stop offset="1" stop-color="#dfae3c"/></linearGradient></defs>
<rect x="1297.9" y="878.5" width="37.4" height="37.9" fill="url(#gg)"/>
<path d="M1297.4 912.6L1313.6 900.6L1316.5 904L1319 905.5L1321.5 908.5L1324 909.5L1327.5 912.5L1330 914L1335.8 917V917.4H1297.4Z" fill="#fff"/>
<path d="M1312.3 901.2L1312.4 892.6C1313.2 891.3 1314.6 891.0 1315.6 891.8C1316.6 892.8 1317.8 892.7 1318.8 893.2C1320.2 894.0 1321.4 893.9 1322.6 894.0C1324.4 894.0 1326 894.2 1327.4 894.8C1328.8 895.2 1330 895.5 1330.9 895.9C1329.4 896.2 1327.6 896.4 1326.2 897.0C1324.6 897.7 1323 898.2 1321.6 898.0C1320.2 897.9 1319 897.8 1318 897.2C1316.8 896.4 1315.4 896.0 1314.4 896.4C1313.9 896.6 1313.7 896.8 1313.7 897.2L1313.8 901.2Z" fill="#fff"/>
<path d="M1306 883.3l0.6 1.9l1.9 0.6l-1.9 0.6l-0.6 1.9l-0.6 -1.9l-1.9 -0.6l1.9 -0.6z" fill="#fff"/>
<circle cx="1303.2" cy="888.7" r="0.6" fill="#fff"/>
<text x="1252.8" y="940.2" font-size="18.9" fill="#e2b445" textLength="50.2" lengthAdjust="spacingAndGlyphs" font-weight="bold" stroke="#e2b445" stroke-width="0.60">NEW</text>
<text x="1304.3" y="940.2" font-size="18.9" fill="#e2b445" textLength="75.4" lengthAdjust="spacingAndGlyphs" stroke="#e2b445" stroke-width="0.55">FOUND</text>
<text x="1280.9" y="953.3" font-size="10.4" fill="#56523f" textLength="71.6" lengthAdjust="spacingAndGlyphs" font-weight="bold" stroke="#56523f" stroke-width="0.35">GOLD CORP</text>
<rect x="1084.5" y="992.5" width="349.5" height="7.5" fill="#666"/>
<rect x="1173.5" y="994" width="84" height="4.5" fill="#fff"/>
<rect x="1347.5" y="994" width="85" height="4.5" fill="#fff"/>
<text x="1075.5" y="985.0" font-size="15.0" fill="#666" textLength="21.0" lengthAdjust="spacingAndGlyphs">0m</text>
<text x="1416.6" y="985.0" font-size="15.0" fill="#666" textLength="36.0" lengthAdjust="spacingAndGlyphs">200m</text>
</svg></body></html>
